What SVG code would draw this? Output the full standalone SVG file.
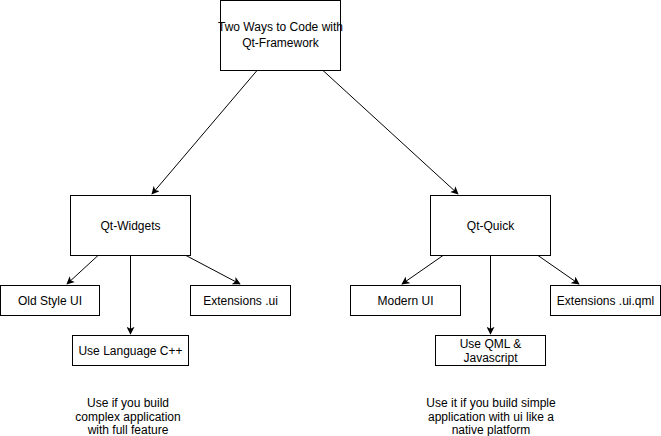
<svg xmlns="http://www.w3.org/2000/svg" width="661" height="436" viewBox="0 0 661 436">
<defs>
<marker id="arr" viewBox="0 0 10 10" refX="9" refY="5" markerWidth="8" markerHeight="8" markerUnits="userSpaceOnUse" orient="auto">
<path d="M0,0 L10,5 L0,10 L2.5,5 Z" fill="#000"/>
</marker>
<style>
.box{fill:#fff;stroke:#000;stroke-width:1}
.t{font-family:"Liberation Sans",Arial,Helvetica,sans-serif;font-size:12px;fill:#000;text-anchor:middle}
.e{fill:none;stroke:#000;stroke-width:1;marker-end:url(#arr)}
</style>
</defs>
<rect width="661" height="436" fill="#fff"/>
<g id="connectors">
<line class="e" x1="257" y1="70.5" x2="152" y2="194"/>
<line class="e" x1="323" y1="70.5" x2="458" y2="194"/>
<line class="e" x1="98" y1="255.5" x2="67" y2="284"/>
<line class="e" x1="130.5" y1="255.5" x2="130.5" y2="334"/>
<line class="e" x1="186" y1="255.5" x2="240" y2="284"/>
<line class="e" x1="443" y1="255.5" x2="402" y2="284"/>
<line class="e" x1="490.5" y1="255.5" x2="490.5" y2="334"/>
<line class="e" x1="538" y1="255.5" x2="579" y2="284"/>
</g>
<g id="root">
<rect class="box" x="220.5" y="0.5" width="120" height="70"/>
<text class="t" x="280.5" y="31">Two Ways to Code with</text>
<text class="t" x="280.5" y="47">Qt-Framework</text>
</g>
<g id="qt-widgets">
<rect class="box" x="70.5" y="195.5" width="120" height="60"/>
<text class="t" x="130.5" y="229.5">Qt-Widgets</text>
</g>
<g id="qt-quick">
<rect class="box" x="430.5" y="195.5" width="120" height="60"/>
<text class="t" x="490.5" y="229.5">Qt-Quick</text>
</g>
<g id="old-style">
<rect class="box" x="0.5" y="285.5" width="99" height="30"/>
<text class="t" x="50" y="304.5">Old Style UI</text>
</g>
<g id="ext-ui">
<rect class="box" x="190.5" y="285.5" width="100" height="30"/>
<text class="t" x="240.5" y="304.5">Extensions .ui</text>
</g>
<g id="cpp">
<rect class="box" x="72.5" y="335.5" width="116" height="30"/>
<text class="t" x="130.5" y="354.5">Use Language C++</text>
</g>
<g id="modern">
<rect class="box" x="350.5" y="285.5" width="110" height="30"/>
<text class="t" x="405.5" y="304.5">Modern UI</text>
</g>
<g id="ext-qml">
<rect class="box" x="550.5" y="285.5" width="110" height="30"/>
<text class="t" x="605.5" y="304.5">Extensions .ui.qml</text>
</g>
<g id="qml">
<rect class="box" x="435.5" y="335.5" width="110" height="30"/>
<text class="t" x="490.5" y="347.5">Use QML &amp;</text>
<text class="t" x="490.5" y="362">Javascript</text>
</g>
<g id="note-left">
<text class="t" x="128" y="407">Use if you build</text>
<text class="t" x="128" y="420.5">complex application</text>
<text class="t" x="128" y="434">with full feature</text>
</g>
<g id="note-right">
<text class="t" x="491" y="407">Use it if you build simple</text>
<text class="t" x="491" y="420.5">application with ui like a</text>
<text class="t" x="491" y="434">native platform</text>
</g>
</svg>
